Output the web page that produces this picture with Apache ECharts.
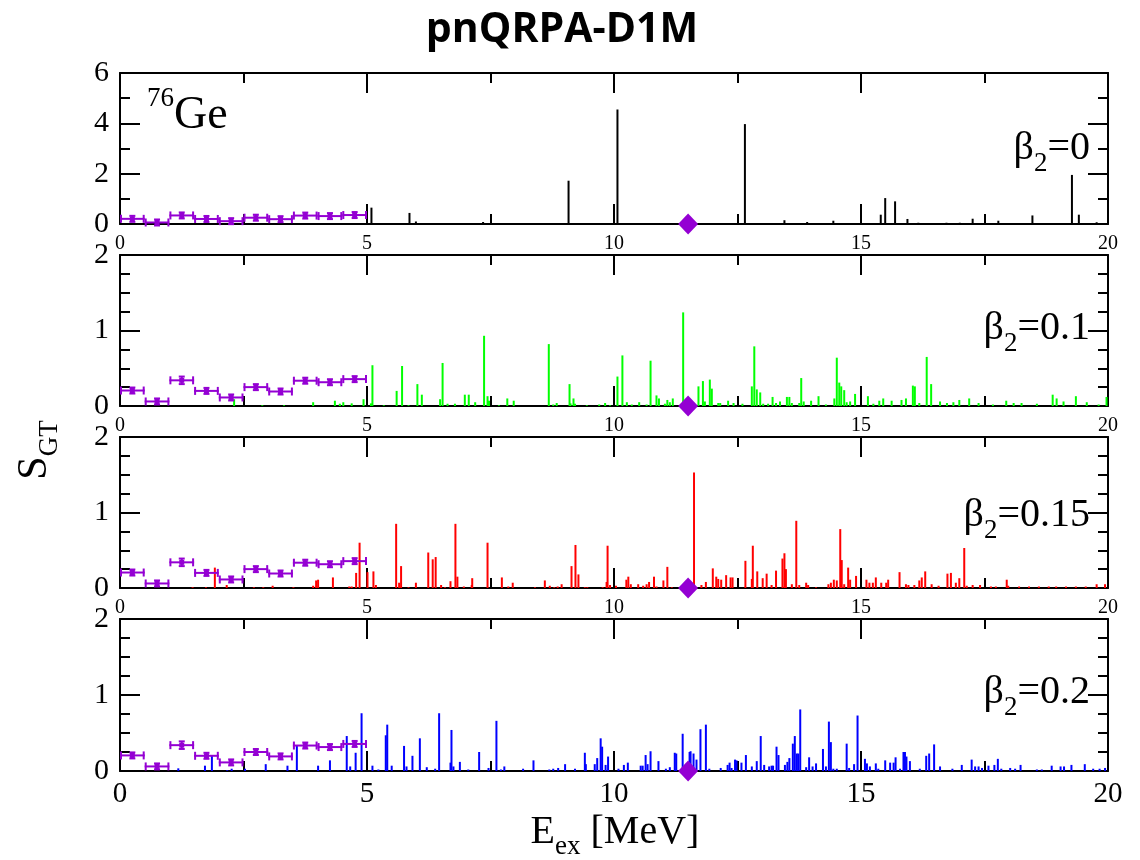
<!DOCTYPE html>
<html>
<head>
<meta charset="utf-8">
<script src="https://cdn.jsdelivr.net/npm/echarts@6/dist/echarts.min.js"></script>
<style>
html,body{margin:0;padding:0;background:#fff;}
#chart{width:1140px;height:860px;}
</style>
</head>
<body>
<div id="chart"></div>
<script>
// ---------------- DATA ----------------
const panelLabels = ['0', '0.1', '0.15', '0.2'];
const xTickValues = [0, 5, 10, 15, 20];

// pnQRPA-D1M GT strengths [E_ex (MeV), S_GT]
const lines_b0 = [[3.17,0.03],[5.09,0.65],[5.86,0.44],[5.99,0.1],[7.35,0.08],[9.08,1.72],[10.07,4.55],[12.65,3.97],[13.45,0.15],[13.91,0.08],[14.44,0.13],[15.40,0.37],[15.49,1.03],[15.69,0.9],[15.94,0.2],[16.16,0.05],[16.30,0.04],[16.73,0.05],[17.0,0.05],[17.26,0.21],[17.78,0.13],[18.47,0.34],[19.27,1.95],[19.41,0.37],[19.77,0.07]];

const lines_b01 = [[2.31,0.09],[2.88,0.01],[3.32,0.01],[3.91,0.05],[4.35,0.07],[4.45,0.03],[4.52,0.05],[4.69,0.035],[4.93,0.09],[5.08,0.035],[5.11,0.54],[5.34,0.01],[5.6,0.2],[5.71,0.53],[5.84,0.01],[6.02,0.29],[6.11,0.15],[6.48,0.09],[6.53,0.57],[6.63,0.03],[6.78,0.03],[6.98,0.15],[7.06,0.15],[7.19,0.05],[7.37,0.93],[7.44,0.13],[7.47,0.07],[7.67,0.01],[7.84,0.1],[7.97,0.07],[8.68,0.82],[8.77,0.02],[8.84,0.04],[9.1,0.29],[9.12,0.035],[9.18,0.1],[9.21,0.03],[9.45,0.01],[9.7,0.02],[9.82,0.04],[9.92,0.01],[10.07,0.39],[10.17,0.67],[10.26,0.05],[10.36,0.02],[10.51,0.05],[10.66,0.02],[10.74,0.6],[10.86,0.14],[10.91,0.1],[11.03,0.03],[11.08,0.08],[11.13,0.05],[11.19,0.1],[11.40,1.24],[11.71,0.26],[11.8,0.33],[11.84,0.06],[11.94,0.35],[11.98,0.23],[12.11,0.04],[12.15,0.04],[12.31,0.07],[12.42,0.04],[12.6,0.03],[12.79,0.26],[12.84,0.79],[12.89,0.22],[12.96,0.18],[13.02,0.03],[13.12,0.03],[13.21,0.12],[13.28,0.04],[13.36,0.06],[13.5,0.12],[13.55,0.12],[13.6,0.04],[13.75,0.04],[13.79,0.37],[13.84,0.06],[13.99,0.07],[14.14,0.13],[14.29,0.02],[14.46,0.1],[14.51,0.64],[14.56,0.31],[14.6,0.26],[14.66,0.21],[14.71,0.05],[14.78,0.06],[14.88,0.16],[15.14,0.13],[15.25,0.03],[15.37,0.07],[15.45,0.1],[15.62,0.07],[15.82,0.08],[15.91,0.1],[16.05,0.27],[16.09,0.26],[16.18,0.04],[16.33,0.65],[16.42,0.29],[16.6,0.06],[16.74,0.04],[16.87,0.05],[16.99,0.08],[17.19,0.1],[17.38,0.04],[17.67,0.02],[17.94,0.07],[18.09,0.04],[18.25,0.04],[18.56,0.03],[18.88,0.15],[18.96,0.1],[19.1,0.06],[19.35,0.13],[19.57,0.05],[19.81,0.02],[19.97,0.12]];

const lines_b015 = [[1.47,0.01],[1.74,0.01],[1.92,0.27],[2.16,0.04],[2.71,0.01],[2.9,0.01],[3.09,0.03],[3.51,0.01],[3.91,0.03],[3.97,0.1],[4.01,0.11],[4.31,0.14],[4.64,0.02],[4.69,0.02],[4.78,0.2],[4.85,0.6],[5.01,0.21],[5.13,0.22],[5.18,0.04],[5.59,0.85],[5.65,0.07],[5.69,0.29],[5.84,0.01],[5.99,0.07],[6.24,0.47],[6.33,0.38],[6.39,0.41],[6.5,0.04],[6.58,0.01],[6.69,0.09],[6.79,0.85],[6.83,0.15],[6.96,0.02],[7.12,0.04],[7.13,0.13],[7.44,0.6],[7.73,0.14],[7.86,0.02],[7.95,0.07],[8.4,0.01],[8.6,0.1],[8.7,0.03],[8.79,0.01],[8.86,0.02],[8.94,0.05],[9.14,0.29],[9.22,0.57],[9.28,0.18],[9.41,0.01],[9.46,0.01],[9.77,0.01],[9.85,0.08],[9.87,0.56],[9.92,0.04],[10.04,0.03],[10.25,0.11],[10.29,0.15],[10.34,0.05],[10.49,0.05],[10.59,0.03],[10.66,0.05],[10.71,0.08],[10.81,0.15],[10.86,0.02],[11.0,0.1],[11.08,0.28],[11.17,0.01],[11.62,1.53],[11.77,0.04],[11.86,0.08],[12.0,0.26],[12.07,0.15],[12.11,0.12],[12.17,0.11],[12.27,0.17],[12.36,0.14],[12.4,0.14],[12.66,0.36],[12.79,0.12],[12.81,0.56],[12.9,0.22],[13.01,0.13],[13.09,0.19],[13.19,0.04],[13.28,0.23],[13.41,0.39],[13.45,0.46],[13.48,0.25],[13.6,0.05],[13.69,0.89],[13.75,0.04],[13.89,0.07],[13.93,0.04],[14.09,0.01],[14.34,0.05],[14.39,0.07],[14.45,0.11],[14.51,0.1],[14.58,0.78],[14.61,0.37],[14.66,0.05],[14.74,0.27],[14.78,0.11],[14.9,0.16],[15.11,0.11],[15.17,0.07],[15.24,0.07],[15.3,0.14],[15.41,0.07],[15.51,0.07],[15.55,0.11],[15.78,0.21],[15.91,0.05],[15.96,0.04],[16.08,0.04],[16.18,0.1],[16.23,0.14],[16.3,0.22],[16.43,0.05],[16.57,0.03],[16.75,0.19],[16.82,0.2],[16.92,0.07],[16.99,0.13],[17.09,0.53],[17.14,0.03],[17.26,0.04],[17.41,0.04],[17.63,0.02],[17.73,0.02],[17.95,0.11],[17.98,0.03],[18.2,0.02],[18.4,0.02],[18.6,0.02],[18.8,0.02],[18.95,0.02],[19.15,0.02],[19.35,0.02],[19.55,0.02],[19.77,0.05],[19.94,0.05]];

const lines_b02 = [[1.18,0.035],[1.72,0.07],[1.86,0.21],[2.17,0.01],[2.26,0.03],[2.53,0.03],[2.95,0.09],[3.39,0.07],[3.58,0.33],[4.01,0.07],[4.25,0.14],[4.59,0.46],[4.66,0.06],[4.77,0.24],[4.89,0.76],[5.11,0.07],[5.23,0.02],[5.38,0.47],[5.41,0.61],[5.5,0.07],[5.75,0.33],[5.8,0.06],[5.92,0.2],[6.07,0.43],[6.21,0.05],[6.38,0.03],[6.46,0.76],[6.69,0.11],[6.71,0.54],[6.75,0.06],[6.88,0.12],[7.05,0.02],[7.27,0.25],[7.46,0.04],[7.62,0.66],[7.71,0.02],[7.78,0.06],[8.16,0.03],[8.37,0.14],[8.69,0.02],[8.77,0.03],[8.87,0.04],[9.01,0.09],[9.21,0.03],[9.41,0.24],[9.43,0.09],[9.61,0.09],[9.66,0.17],[9.73,0.43],[9.76,0.32],[9.83,0.08],[9.88,0.19],[10.09,0.03],[10.2,0.08],[10.28,0.11],[10.54,0.07],[10.58,0.07],[10.64,0.21],[10.68,0.09],[10.74,0.26],[10.9,0.13],[11.05,0.03],[11.13,0.05],[11.23,0.24],[11.26,0.23],[11.39,0.49],[11.53,0.25],[11.55,0.26],[11.61,0.23],[11.67,0.15],[11.75,0.55],[11.86,0.61],[11.93,0.03],[12.16,0.04],[12.3,0.08],[12.34,0.11],[12.38,0.04],[12.45,0.15],[12.48,0.14],[12.58,0.11],[12.67,0.21],[12.79,0.06],[12.89,0.13],[12.97,0.46],[13.04,0.08],[13.14,0.06],[13.19,0.07],[13.22,0.07],[13.29,0.32],[13.33,0.21],[13.46,0.08],[13.51,0.12],[13.55,0.17],[13.62,0.36],[13.66,0.46],[13.7,0.23],[13.73,0.23],[13.77,0.81],[13.89,0.05],[13.95,0.18],[14.02,0.06],[14.09,0.1],[14.23,0.29],[14.29,0.06],[14.35,0.65],[14.39,0.38],[14.44,0.03],[14.51,0.03],[14.71,0.36],[14.76,0.04],[14.86,0.09],[14.93,0.73],[15.08,0.16],[15.12,0.1],[15.18,0.06],[15.3,0.1],[15.35,0.03],[15.49,0.14],[15.59,0.11],[15.66,0.11],[15.7,0.18],[15.79,0.03],[15.86,0.25],[15.89,0.25],[15.92,0.19],[15.99,0.13],[16.19,0.03],[16.32,0.2],[16.38,0.23],[16.48,0.35],[16.6,0.06],[16.85,0.03],[17.04,0.08],[17.24,0.15],[17.31,0.06],[17.38,0.06],[17.45,0.04],[17.58,0.07],[17.7,0.08],[17.77,0.16],[17.84,0.03],[18.02,0.04],[18.12,0.03],[18.23,0.08],[18.56,0.02],[18.66,0.02],[18.86,0.07],[19.04,0.06],[19.11,0.06],[19.26,0.08],[19.53,0.09],[19.7,0.03],[19.83,0.03],[19.94,0.04]];

// Experimental (charge-exchange) data: 0.5 MeV bins
const expBinLo = [0, 0.5, 1.0, 1.5, 2.0, 2.5, 3.0, 3.5, 4.0, 4.5];
const expBinHi = [0.5, 1.0, 1.5, 2.0, 2.5, 3.0, 3.5, 4.0, 4.5, 5.0];
const expS     = [0.205, 0.06, 0.34, 0.20, 0.113, 0.25, 0.192, 0.335, 0.315, 0.356];
const expErr   = [0.03, 0.02, 0.05, 0.03, 0.01, 0.035, 0.03, 0.025, 0.025, 0.035];

// Experimental GT giant resonance centroid
const grE = [11.5];
const grS = [0];

// ---------------- CHART ----------------
const SERIF = '"Liberation Serif","Times New Roman",serif';
const panels = [
  {top: 73,  height: 151, ymax: 6, yint: 2, ysplit: 2, color: '#000000', data: lines_b0},
  {top: 255, height: 151, ymax: 2, yint: 1, ysplit: 4, color: '#00ff00', data: lines_b01},
  {top: 437, height: 151, ymax: 2, yint: 1, ysplit: 4, color: '#ff0000', data: lines_b015},
  {top: 619, height: 152, ymax: 2, yint: 1, ysplit: 4, color: '#0000ff', data: lines_b02}
];
const PURPLE = '#9400d3';
const axisLine = {show: true, onZero: false, lineStyle: {color: '#000', width: 2}};
const tickStyle = {color: '#000', width: 2};

const grids = [], xAxes = [], yAxes = [], series = [];
panels.forEach((p, i) => {
  grids.push({left: 120, right: 32, top: p.top, height: p.height});
  const last = i === panels.length - 1;
  xAxes.push({
    gridIndex: i, type: 'value', min: 0, max: 20, interval: 5, position: 'bottom',
    axisLine: axisLine,
    axisTick: {show: true, inside: true, length: 20, lineStyle: tickStyle},
    minorTick: {show: true, splitNumber: 2, length: 10, lineStyle: tickStyle},
    splitLine: {show: false},
    axisLabel: {show: true, color: '#000', fontFamily: SERIF, fontSize: last ? 29 : 20, margin: last ? 9 : 10,
      customValues: xTickValues}
  });
  xAxes.push({
    gridIndex: i, type: 'value', min: 0, max: 20, interval: 5, position: 'top',
    axisLine: axisLine,
    axisTick: {show: true, inside: true, length: 20, lineStyle: tickStyle},
    minorTick: {show: true, splitNumber: 2, length: 10, lineStyle: tickStyle},
    splitLine: {show: false}, axisLabel: {show: false}
  });
  yAxes.push({
    gridIndex: i, type: 'value', min: 0, max: p.ymax, interval: p.yint, position: 'left',
    axisLine: axisLine,
    axisTick: {show: true, inside: true, length: 20, lineStyle: tickStyle},
    minorTick: {show: true, splitNumber: p.ysplit, length: 10, lineStyle: tickStyle},
    splitLine: {show: false},
    axisLabel: {show: true, color: '#000', fontFamily: SERIF, fontSize: 30, margin: 11}
  });
  yAxes.push({
    gridIndex: i, type: 'value', min: 0, max: p.ymax, interval: p.yint, position: 'right',
    axisLine: axisLine,
    axisTick: {show: true, inside: true, length: 20, lineStyle: tickStyle},
    minorTick: {show: true, splitNumber: p.ysplit, length: 10, lineStyle: tickStyle},
    splitLine: {show: false}, axisLabel: {show: false}
  });

  // theoretical GT strength lines
  series.push({
    type: 'custom', xAxisIndex: 2 * i, yAxisIndex: 2 * i, z: 2,
    data: p.data,
    renderItem: (params, api) => {
      const a = api.coord([api.value(0), 0]);
      const b = api.coord([api.value(0), api.value(1)]);
      return {type: 'line', shape: {x1: a[0], y1: a[1], x2: b[0], y2: b[1]},
        style: {stroke: p.color, lineWidth: 2}};
    }
  });

  // experimental histogram with error bars
  series.push({
    type: 'custom', xAxisIndex: 2 * i, yAxisIndex: 2 * i, z: 4,
    data: expS.map((s, k) => [expBinLo[k], expBinHi[k], s, expErr[k]]),
    renderItem: (params, api) => {
      const lo = api.value(0), hi = api.value(1), s = api.value(2), e = api.value(3);
      const mid = (lo + hi) / 2;
      const L = api.coord([lo, s]), R = api.coord([hi, s]), C = api.coord([mid, s]);
      let U = api.coord([mid, s + e]), D = api.coord([mid, s - e]);
      if (D[1] - U[1] < 6) { U = [U[0], C[1] - 3]; D = [D[0], C[1] + 3]; }
      const st = {stroke: PURPLE, lineWidth: 2};
      return {type: 'group', children: [
        {type: 'line', shape: {x1: L[0], y1: L[1], x2: R[0], y2: R[1]}, style: st},
        {type: 'line', shape: {x1: L[0] + 1, y1: L[1] - 4, x2: L[0] + 1, y2: L[1] + 4}, style: st},
        {type: 'line', shape: {x1: R[0] - 1, y1: R[1] - 4, x2: R[0] - 1, y2: R[1] + 4}, style: st},
        {type: 'line', shape: {x1: U[0], y1: U[1], x2: D[0], y2: D[1]}, style: st},
        {type: 'line', shape: {x1: U[0] - 3, y1: U[1], x2: U[0] + 3, y2: U[1]}, style: st},
        {type: 'line', shape: {x1: D[0] - 3, y1: D[1], x2: D[0] + 3, y2: D[1]}, style: st},
        {type: 'rect', shape: {x: C[0] - 2.5, y: C[1] - 2.5, width: 5, height: 5}, style: {fill: PURPLE}}
      ]};
    }
  });

  // GT resonance diamond
  series.push({
    type: 'scatter', xAxisIndex: 2 * i, yAxisIndex: 2 * i, z: 5, clip: false,
    symbol: 'diamond', symbolSize: [20, 21],
    itemStyle: {color: PURPLE, opacity: 1},
    data: grE.map((e, k) => [e, grS[k]])
  });
});

const graphics = [
  {type: 'text', x: 562, y: 30, style: {text: 'pnQRPA-D1M', fill: '#000',
    font: 'bold 41px "Open Sans", "Liberation Sans", sans-serif', textAlign: 'center', textVerticalAlign: 'middle'}},
  {type: 'text', x: 147, y: 112, style: {text: '{sup|76}{m|Ge}', textAlign: 'left', textVerticalAlign: 'middle',
    rich: {sup: {fontFamily: SERIF, fontSize: 27, fill: '#000', verticalAlign: 'top', lineHeight: 54},
           m: {fontFamily: SERIF, fontSize: 46, fill: '#000', verticalAlign: 'bottom', lineHeight: 54}}}},
  {type: 'text', x: 35, y: 450, rotation: Math.PI / 2, style: {text: '{m|S}{s|GT}', textAlign: 'center', textVerticalAlign: 'middle',
    rich: {m: {fontFamily: SERIF, fontSize: 42, fill: '#000', verticalAlign: 'middle', lineHeight: 56},
           s: {fontFamily: SERIF, fontSize: 27, fill: '#000', verticalAlign: 'bottom', lineHeight: 56}}}},
  {type: 'text', x: 615, y: 832, style: {text: '{m|E}{s|ex}{m| [MeV]}', textAlign: 'center', textVerticalAlign: 'middle',
    rich: {m: {fontFamily: SERIF, fontSize: 40, fill: '#000', verticalAlign: 'middle', lineHeight: 56},
           s: {fontFamily: SERIF, fontSize: 27, fill: '#000', verticalAlign: 'bottom', lineHeight: 56}}}}
];
const labelY = [148, 328, 515, 692];
panels.forEach((p, i) => {
  graphics.push({type: 'text', x: 1090, y: labelY[i], style: {
    text: '{m|β}{s|2}{m|=' + panelLabels[i] + '}', textAlign: 'right', textVerticalAlign: 'middle',
    rich: {m: {fontFamily: SERIF, fontSize: 40, fill: '#000', verticalAlign: 'middle', lineHeight: 58},
           s: {fontFamily: SERIF, fontSize: 27, fill: '#000', verticalAlign: 'bottom', lineHeight: 58}}}});
});

const chart = echarts.init(document.getElementById('chart'), null, {renderer: 'canvas'});
chart.setOption({
  animation: false,
  backgroundColor: '#ffffff',
  grid: grids, xAxis: xAxes, yAxis: yAxes, series: series,
  graphic: graphics
});
</script>
</body>
</html>
